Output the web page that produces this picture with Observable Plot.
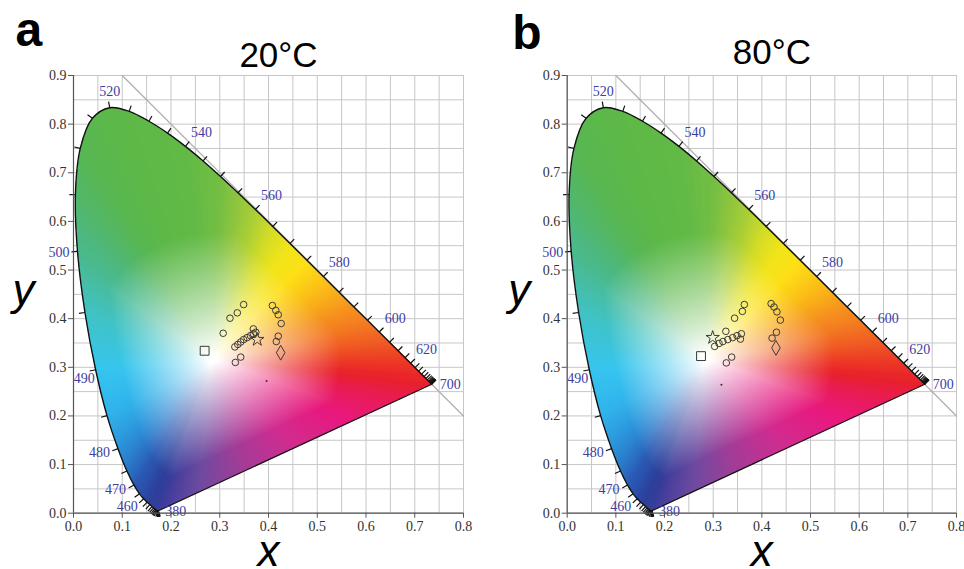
<!DOCTYPE html>
<html><head><meta charset="utf-8">
<script src="https://cdn.jsdelivr.net/npm/d3@7"></script>
<script src="https://cdn.jsdelivr.net/npm/@observablehq/plot@0.6"></script>
<style>
body{margin:0;background:#fff;}
#wrap{position:relative;width:964px;height:569px;overflow:hidden;background:#fff;}
#wrap > svg{position:absolute;top:0;}
</style></head><body><div id="wrap"></div>
<script>
// ---- CIE 1931 spectral locus (5 nm) ----
const wavelengths = [380,385,390,395,400,405,410,415,420,425,430,435,440,445,450,455,460,465,470,475,480,485,490,495,500,505,510,515,520,525,530,535,540,545,550,555,560,565,570,575,580,585,590,595,600,605,610,615,620,625,630,635,640,645,650,655,660,665,670,675,680,685,690,695,700];
const locusX = [0.1741,0.1740,0.1738,0.1736,0.1733,0.1730,0.1726,0.1721,0.1714,0.1703,0.1689,0.1669,0.1644,0.1611,0.1566,0.1510,0.1440,0.1355,0.1241,0.1096,0.0913,0.0687,0.0454,0.0235,0.0082,0.0039,0.0139,0.0389,0.0743,0.1142,0.1547,0.1929,0.2296,0.2658,0.3016,0.3373,0.3731,0.4087,0.4441,0.4788,0.5125,0.5448,0.5752,0.6029,0.6270,0.6482,0.6658,0.6801,0.6915,0.7006,0.7079,0.7140,0.7190,0.7230,0.7260,0.7283,0.7300,0.7311,0.7320,0.7327,0.7334,0.7340,0.7344,0.7346,0.7347];
const locusY = [0.0050,0.0050,0.0049,0.0049,0.0048,0.0048,0.0048,0.0048,0.0051,0.0058,0.0069,0.0086,0.0109,0.0138,0.0177,0.0227,0.0297,0.0399,0.0578,0.0868,0.1327,0.2007,0.2950,0.4127,0.5384,0.6548,0.7502,0.8120,0.8338,0.8262,0.8059,0.7816,0.7543,0.7243,0.6923,0.6589,0.6245,0.5896,0.5547,0.5202,0.4866,0.4544,0.4242,0.3965,0.3725,0.3514,0.3340,0.3197,0.3083,0.2993,0.2920,0.2859,0.2809,0.2770,0.2740,0.2717,0.2700,0.2689,0.2680,0.2673,0.2666,0.2660,0.2656,0.2654,0.2653];

// axis ticks and grid
const xTicks = [0,0.1,0.2,0.3,0.4,0.5,0.6,0.7,0.8];
const yTicks = [0,0.1,0.2,0.3,0.4,0.5,0.6,0.7,0.8,0.9];
const xGrid = [0,0.05,0.1,0.15,0.2,0.25,0.3,0.35,0.4,0.45,0.5,0.55,0.6,0.65,0.7,0.75,0.8];
const yGrid = [0,0.05,0.1,0.15,0.2,0.25,0.3,0.35,0.4,0.45,0.5,0.55,0.6,0.65,0.7,0.75,0.8,0.85,0.9];
// x + y = 1 reference line
const diagX = [0.1, 0.8];
const diagY = [0.9, 0.2];

// panel titles
const panelLetters = ["a", "b"];
const panelTitles = ["20°C", "80°C"];

// ---- measured points, panel a (20°C) ----
const aCircleX = [0.349,0.336,0.321,0.307,0.331,0.337,0.343,0.349,0.356,0.363,0.369,0.374,0.369,0.343,0.332,0.408,0.415,0.420,0.426,0.420,0.416];
const aCircleY = [0.429,0.412,0.401,0.370,0.342,0.347,0.352,0.357,0.361,0.365,0.369,0.372,0.379,0.321,0.310,0.427,0.417,0.408,0.390,0.364,0.353];
const aStar = [0.377, 0.357];
const aSquare = [0.269, 0.334];
const aDiamond = [0.425, 0.330];
const aDot = [0.396, 0.272];
// ---- measured points, panel b (80°C) ----
const bCircleX = [0.364,0.360,0.344,0.326,0.303,0.312,0.320,0.330,0.340,0.349,0.358,0.356,0.338,0.327,0.419,0.425,0.431,0.438,0.430,0.421];
const bCircleY = [0.429,0.415,0.401,0.374,0.343,0.349,0.353,0.357,0.361,0.365,0.369,0.358,0.321,0.309,0.431,0.424,0.414,0.397,0.372,0.360];
const bStar = [0.299, 0.361];
const bSquare = [0.275, 0.323];
const bDiamond = [0.429, 0.340];
const bDot = [0.317, 0.264];

// ---- styles ----
const labelGroups = [
  {w: [520], anchor: "middle", dx: 0, dy: -16},
  {w: [540, 560, 580, 600, 620], anchor: "middle", dx: 16, dy: -14},
  {w: [700], anchor: "start", dx: 8, dy: 0},
  {w: [500], anchor: "end", dx: -8, dy: 1},
  {w: [490], anchor: "end", dx: -1, dy: 9},
  {w: [480, 470], anchor: "end", dx: -8, dy: 4},
  {w: [460], anchor: "end", dx: -6, dy: 8},
  {w: [380], anchor: "start", dx: 7, dy: 1}
];
const locusColorStops = [[380,"#3b3c9b"],[450,"#2e3f9a"],[460,"#2b48a4"],[470,"#2a5ab4"],[475,"#2a74c6"],[480,"#2b92da"],[485,"#30b2ea"],[490,"#36c5ef"],[495,"#40c3c6"],[500,"#4ab98e"],[505,"#52b76a"],[510,"#58b752"],[520,"#5cb847"],[540,"#62ba46"],[550,"#74be43"],[555,"#8dc53e"],[560,"#aacf36"],[565,"#d4dc27"],[570,"#f1e41a"],[575,"#fde017"],[580,"#fcc816"],[585,"#f9ad1a"],[590,"#f6921e"],[600,"#f26a22"],[610,"#ee4a24"],[620,"#ec3626"],[640,"#e9252a"],[700,"#e8202c"]];
const purpleStops = [[0,"#e8202c"],[0.15,"#e91b5a"],[0.3,"#e8197e"],[0.5,"#d22b8f"],[0.7,"#a03d98"],[0.85,"#6e4a9f"],[1,"#3b3c9b"]];
const whitePoint = [0.285, 0.315];

// ---- colour field of the diagram ----
function stopColor(stops, v) {
  for (let i = 0; i < stops.length - 1; i++) {
    if (v <= stops[i + 1][0]) {
      const f = (v - stops[i][0]) / (stops[i + 1][0] - stops[i][0]);
      return d3.rgb(d3.interpolateRgb(stops[i][1], stops[i + 1][1])(Math.max(0, Math.min(1, f))));
    }
  }
  return d3.rgb(stops[stops.length - 1][1]);
}
// smooth (Catmull-Rom) outline of the locus, used for the colour field's clip
const STEPS = 10;
const smooth = [];
for (let i = 0; i < wavelengths.length - 1; i++) {
  const i0 = Math.max(i - 1, 0), i3 = Math.min(i + 2, wavelengths.length - 1);
  const P = [i0, i, i + 1, i3].map(j => [locusX[j], locusY[j]]);
  for (let k = 0; k < STEPS; k++) {
    const t = k / STEPS, t2 = t * t, t3 = t2 * t;
    const c = d => 0.5 * (2 * P[1][d] + (-P[0][d] + P[2][d]) * t + (2 * P[0][d] - 5 * P[1][d] + 4 * P[2][d] - P[3][d]) * t2 + (-P[0][d] + 3 * P[1][d] - 3 * P[2][d] + P[3][d]) * t3);
    smooth.push({x: c(0), y: c(1), w: wavelengths[i] + 5 * t});
  }
}
smooth.push({x: locusX[locusX.length - 1], y: locusY[locusY.length - 1], w: 700});
const poly = smooth.map(p => [p.x, p.y]);
const samples = smooth.map(p => ({x: p.x, y: p.y, c: stopColor(locusColorStops, p.w)}));
{
  const n = locusX.length - 1;
  for (let k = 1; k < 200; k++) {
    const f = k / 200;
    samples.push({x: locusX[n] + (locusX[0] - locusX[n]) * f, y: locusY[n] + (locusY[0] - locusY[n]) * f, c: stopColor(purpleStops, f)});
  }
}
samples.forEach(s => { s.a = Math.atan2(s.y - whitePoint[1], s.x - whitePoint[0]); s.r = Math.hypot(s.x - whitePoint[0], s.y - whitePoint[1]); });
samples.sort((p, q) => p.a - q.a);
const NB = 2880;
const table = [];
const angles = samples.map(s => s.a);
for (let b = 0; b < NB; b++) {
  const a = -Math.PI + (b + 0.5) / NB * 2 * Math.PI;
  let i = d3.bisectLeft(angles, a);
  const s1 = samples[i % samples.length];
  const s0 = samples[(i - 1 + samples.length) % samples.length];
  let a0 = s0.a, a1 = s1.a;
  if (i === 0) a0 -= 2 * Math.PI;
  if (i === samples.length) a1 += 2 * Math.PI;
  const f = a1 > a0 ? (a - a0) / (a1 - a0) : 0;
  table.push({
    r: s0.r + (s1.r - s0.r) * f,
    R: s0.c.r + (s1.c.r - s0.c.r) * f,
    G: s0.c.g + (s1.c.g - s0.c.g) * f,
    B: s0.c.b + (s1.c.b - s0.c.b) * f
  });
}
function cieColor(x, y) {
  if (!d3.polygonContains(poly, [x, y])) return null;
  const dx = x - whitePoint[0], dy = y - whitePoint[1];
  const a = Math.atan2(dy, dx);
  const b = table[Math.min(NB - 1, Math.max(0, Math.floor((a + Math.PI) / (2 * Math.PI) * NB)))];
  const d = Math.hypot(dx, dy);
  const t = d / b.r;
  let s = Math.max((d - 0.012) / 0.25, (t - 0.03) / 0.75);
  s = Math.max(0, Math.min(1, s));
  s = Math.pow(s, 0.9);
  const R = 255 + (b.R - 255) * s, G = 255 + (b.G - 255) * s, B = 255 + (b.B - 255) * s;
  return `rgb(${Math.round(R)},${Math.round(G)},${Math.round(B)})`;
}

const locus = wavelengths.map((w, i) => ({w, x: locusX[i], y: locusY[i]}));
const purpleLine = [locus[locus.length - 1], locus[0]];
const tickLen = 0.0125;
const locusTicks = locus.map((d, i) => {
  const p = Math.max(i - 1, 0), n = Math.min(i + 1, locus.length - 1);
  const tx = locusX[n] - locusX[p], ty = locusY[n] - locusY[p];
  const l = Math.hypot(tx, ty) || 1;
  return {x1: d.x, y1: d.y, x2: d.x + (-ty / l) * tickLen, y2: d.y + (tx / l) * tickLen};
});

const serif = "Liberation Serif, Times New Roman, serif";
const sans = "Liberation Sans, Arial, sans-serif";

function panel(cfg) {
  const circles = cfg.cx.map((x, i) => ({x, y: cfg.cy[i]}));
  const markStroke = "#3a3a3a";
  const marks = [
    Plot.ruleX(xGrid, {stroke: "#c6c6c6", strokeWidth: 1}),
    Plot.ruleY(yGrid, {stroke: "#c6c6c6", strokeWidth: 1}),
    Plot.line(diagX.map((x, i) => ({x, y: diagY[i]})), {x: "x", y: "y", stroke: "#b0b0b0", strokeWidth: 1.3}),
    Plot.raster({x1: 0, x2: 0.8, y1: 0, y2: 0.9, fill: cieColor, pixelSize: 1}),
    Plot.line(locus, {x: "x", y: "y", curve: "catmull-rom", stroke: "#111", strokeWidth: 1.4}),
    Plot.line(purpleLine, {x: "x", y: "y", stroke: "#111", strokeWidth: 1.2}),
    Plot.link(locusTicks, {x1: "x1", y1: "y1", x2: "x2", y2: "y2", stroke: "#111", strokeWidth: 1.2}),
    ...labelGroups.map(g => Plot.text(locus.filter(d => g.w.includes(d.w)), {
      x: "x", y: "y", text: d => String(d.w), textAnchor: g.anchor, dx: g.dx, dy: g.dy,
      fill: "#3d3da3", fontSize: 14, fontFamily: serif
    })),
    Plot.ruleX([0], {stroke: "#555", strokeWidth: 1.2}),
    Plot.ruleY([0], {stroke: "#555", strokeWidth: 1.2}),
    Plot.axisX(xTicks, {tickFormat: d => d.toFixed(1), tickSize: 5, tickPadding: 3, fontSize: 14, fontFamily: serif, fill: "#333", stroke: "#555", label: null}),
    Plot.axisY(yTicks, {tickFormat: d => d.toFixed(1), tickSize: 5, tickPadding: 2, fontSize: 14, fontFamily: serif, fill: "#333", stroke: "#555", label: null}),
    Plot.dot(circles, {x: "x", y: "y", r: 3.3, stroke: markStroke, strokeWidth: 1, fill: "none"}),
    Plot.dot([cfg.star], {x: d => d[0], y: d => d[1], symbol: "star", r: 4.2, stroke: markStroke, strokeWidth: 1, fill: "none"}),
    Plot.dot([cfg.square], {x: d => d[0], y: d => d[1], symbol: "square", r: 5, stroke: markStroke, strokeWidth: 1, fill: "none"}),
    Plot.dot([cfg.diamond], {x: d => d[0], y: d => d[1], symbol: d3.symbolDiamond, r: 4.5, stroke: markStroke, strokeWidth: 1, fill: "none"}),
    Plot.dot([cfg.dot], {x: d => d[0], y: d => d[1], r: 1, fill: "#5a1a30"}),
    Plot.text([cfg.letter], {frameAnchor: "top-left", text: d => d, dx: cfg.letterDx, dy: cfg.letterDy, textAnchor: "start", lineAnchor: "bottom", fontSize: 48, fontWeight: "bold", fontFamily: sans, fill: "#000"}),
    Plot.text([cfg.title], {frameAnchor: "top", text: d => d, dx: 10, dy: cfg.titleDy, lineAnchor: "bottom", fontSize: 35, fontFamily: sans, fill: "#000"}),
    Plot.text(["y"], {frameAnchor: "left", text: d => d, dx: cfg.yDx, dy: 11, textAnchor: "start", lineAnchor: "bottom", fontSize: 44, fontStyle: "italic", fontFamily: sans, fill: "#000"}),
    Plot.text(["x"], {frameAnchor: "bottom", text: d => d, dx: 0, dy: 53, lineAnchor: "bottom", fontSize: 44, fontStyle: "italic", fontFamily: sans, fill: "#000"})
  ];
  const svg = Plot.plot({
    width: 482, height: 569,
    marginLeft: cfg.ml, marginRight: cfg.mr, marginTop: 75, marginBottom: 56.3,
    x: {domain: [0, 0.8], axis: null},
    y: {domain: [0, 0.9], axis: null},
    style: {background: "transparent", overflow: "visible"},
    marks
  });
  svg.style.left = cfg.left + "px";
  return svg;
}

const wrap = document.getElementById("wrap");
wrap.appendChild(panel({left: 0, ml: 73, mr: 19, cx: aCircleX, cy: aCircleY, star: aStar, square: aSquare, diamond: aDiamond, dot: aDot,
  letter: panelLetters[0], title: panelTitles[0], letterDx: -58, letterDy: -30, titleDy: -9, yDx: -61}));
wrap.appendChild(panel({left: 482, ml: 84.7, mr: 8, cx: bCircleX, cy: bCircleY, star: bStar, square: bSquare, diamond: bDiamond, dot: bDot,
  letter: panelLetters[1], title: panelTitles[1], letterDx: -55, letterDy: -27, titleDy: -12, yDx: -59}));
</script>
</body></html>
